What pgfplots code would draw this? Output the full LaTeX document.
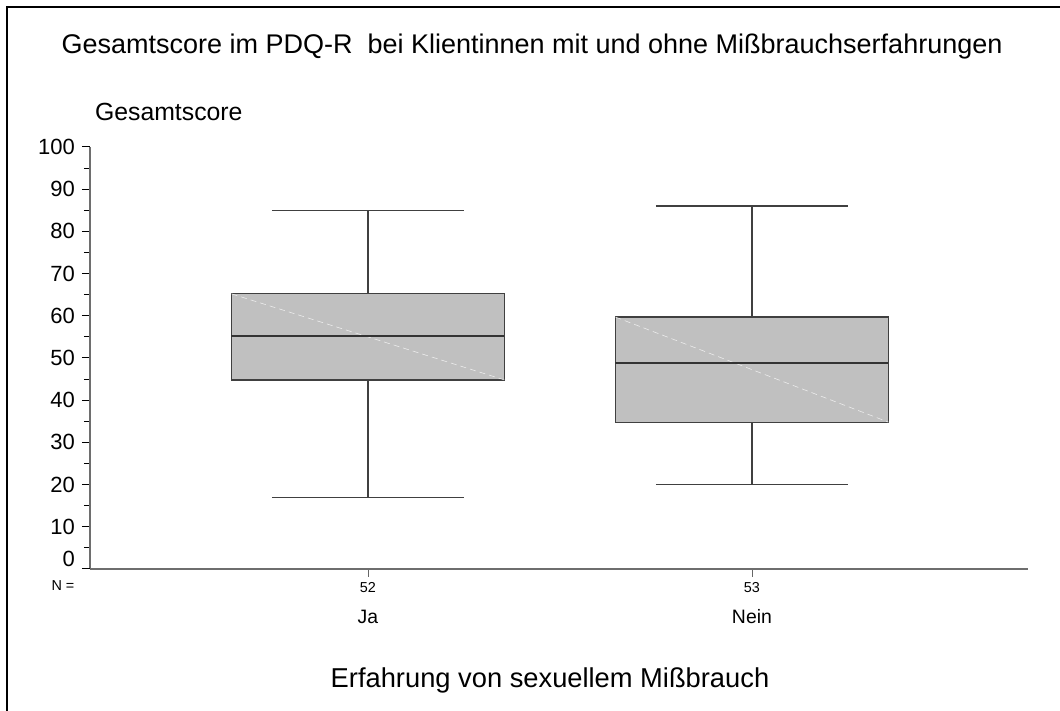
\documentclass[border=0pt]{standalone}
\usepackage{pgfplots}
\pgfplotsset{compat=1.18}
\usepackage{fontspec}
\setmainfont{Liberation Sans}
\definecolor{boxgray}{RGB}{192,192,192}
\definecolor{axgray}{RGB}{110,110,110}
\begin{document}
\begin{tikzpicture}
\begin{scope}[x=0.5pt,y=0.5pt]
\path[use as bounding box] (0,0) rectangle (1060,711);
\draw[line width=1.3pt] (7,0) -- (7,704) -- (1060,704);
\node[font=\fontsize{13.5}{15}\selectfont] at (532,664) {Gesamtscore im PDQ-R\ \ bei Klientinnen mit und ohne Mißbrauchserfahrungen};
\node[font=\fontsize{12.4}{14}\selectfont, anchor=west] at (88,599) {Gesamtscore};
\node[font=\fontsize{7.2}{9}\selectfont] at (63,125) {N =};
\node[font=\fontsize{13.65}{16}\selectfont] at (550,31) {Erfahrung von sexuellem Mißbrauch};
\end{scope}
\begin{axis}[
  at={(45pt,71pt)}, anchor=south west,
  scale only axis, width=469pt, height=211pt,
  xmin=0.276, xmax=2.719, ymin=0, ymax=100,
  axis x line=bottom, axis y line=left,
  axis line style={-, axgray, line width=0.9pt},
  xtick={1,2}, xticklabels={52,53},
  xticklabel style={font=\fontsize{7.2}{9}\selectfont, yshift=1pt},
  ytick={10,20,...,100},
  minor ytick={5,15,...,95},
  extra y ticks={0},
  extra y tick style={yticklabel style={yshift=5pt}},
  yticklabel style={font=\fontsize{11}{13}\selectfont},
  /pgf/number format/assume math mode=true,
  tick align=outside,
  major tick length=4pt, minor tick length=3pt,
  tick style={black, line width=0.5pt},
  xtick style={black!60, line width=0.4pt},
  clip=false,
]
% whiskers
\addplot[draw=black!75, line width=0.6pt] coordinates {(1,65.2) (1,85)};
\addplot[draw=black!75, line width=0.6pt] coordinates {(1,44.8) (1,17)};
\addplot[draw=black!75, line width=0.6pt] coordinates {(0.75,85) (1.25,85)};
\addplot[draw=black!75, line width=0.6pt] coordinates {(0.75,17) (1.25,17)};
\addplot[draw=black!75, line width=0.6pt] coordinates {(2,59.7) (2,86)};
\addplot[draw=black!75, line width=0.6pt] coordinates {(2,34.8) (2,20)};
\addplot[draw=black!75, line width=0.6pt] coordinates {(1.75,86) (2.25,86)};
\addplot[draw=black!75, line width=0.6pt] coordinates {(1.75,20) (2.25,20)};
% boxes
\addplot[draw=black!75, fill=boxgray, line width=0.6pt] coordinates {(0.6445,44.8) (1.3555,44.8) (1.3555,65.2) (0.6445,65.2)} -- cycle;
\addplot[draw=black!75, fill=boxgray, line width=0.6pt] coordinates {(1.6445,34.8) (2.3555,34.8) (2.3555,59.7) (1.6445,59.7)} -- cycle;
\addplot[white!70!boxgray, densely dashed, line width=0.3pt] coordinates {(0.6445,65.2) (1.3555,44.8)};
\addplot[white!70!boxgray, densely dashed, line width=0.3pt] coordinates {(1.6445,59.7) (2.3555,34.8)};
% medians
\addplot[draw=black!80, line width=0.6pt] coordinates {(0.6445,55.2) (1.3555,55.2)};
\addplot[draw=black!80, line width=0.6pt] coordinates {(1.6445,48.8) (2.3555,48.8)};
\node[font=\fontsize{9.7}{12}\selectfont, yshift=-24pt] at (axis cs:1,0) {Ja};
\node[font=\fontsize{9.7}{12}\selectfont, yshift=-24pt] at (axis cs:2,0) {Nein};
\end{axis}
\end{tikzpicture}
\end{document}
